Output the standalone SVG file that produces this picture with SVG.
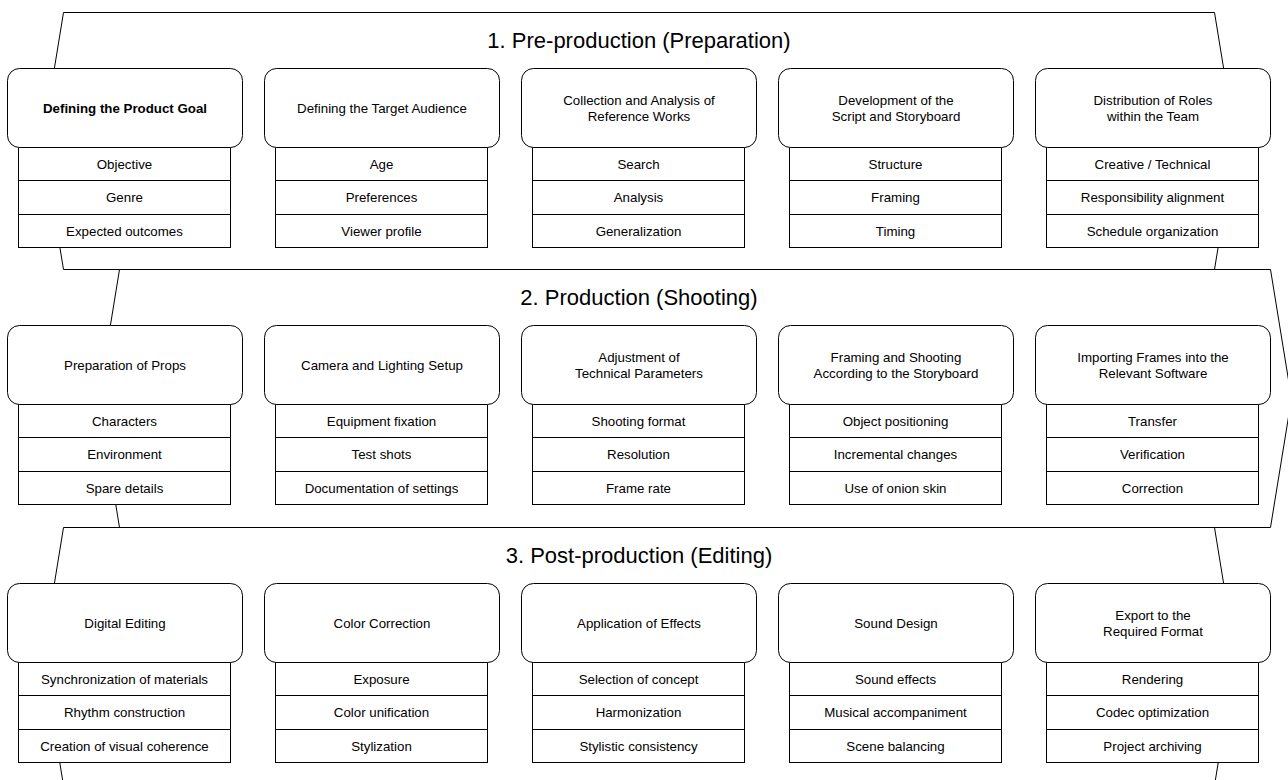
<svg xmlns="http://www.w3.org/2000/svg" width="1288" height="780" viewBox="0 0 1288 780">
<style>
.band{fill:#fff;stroke:#000;stroke-width:1}
.hd{fill:#fff;stroke:#000;stroke-width:1}
.tb{fill:#fff;stroke:#000;stroke-width:1}
text{font-family:"Liberation Sans",Arial,Helvetica,sans-serif;fill:#000;text-anchor:middle}
.t{font-size:22px}
.n{font-size:13.3px}
.b{font-weight:bold}
</style>
<rect width="1288" height="780" fill="#fff"/>
<g id="bands">
<g id="band1"><polygon class="band" points="63.5,12.5 1214.5,12.5 1235.5,141 1214.5,269.5 63.5,269.5 42.5,141"/><text class="t" x="639" y="48">1. Pre-production (Preparation)</text></g>
<g id="band2"><polygon class="band" points="119.5,269.5 1270.5,269.5 1291.5,398.5 1270.5,527.5 119.5,527.5 98.5,398.5"/><text class="t" x="639" y="305">2. Production (Shooting)</text></g>
<g id="band3"><polygon class="band" points="63.5,527.5 1214.5,527.5 1235.5,656.5 1214.5,785.5 63.5,785.5 42.5,656.5"/><text class="t" x="639" y="563">3. Post-production (Editing)</text></g>
</g>
<g id="connectors"></g>
<defs>
<g id="frame">
<rect class="tb" x="11" y="79" width="212" height="33"/>
<rect class="tb" x="11" y="112" width="212" height="34"/>
<rect class="tb" x="11" y="146" width="212" height="33"/>
<rect class="hd" x="0" y="0" width="235" height="79" rx="12" ry="12"/>
</g>
</defs>
<!-- Row 1 -->
<g id="n1_1" transform="translate(7.5,68.5)"><use href="#frame"/><text class="n b" x="117.5" y="44.3">Defining the Product Goal</text><text class="n" x="117" y="100.3">Objective</text><text class="n" x="117" y="133.8">Genre</text><text class="n" x="117" y="167">Expected outcomes</text></g>
<g id="n1_2" transform="translate(264.5,68.5)"><use href="#frame"/><text class="n" x="117.5" y="44.3">Defining the Target Audience</text><text class="n" x="117" y="100.3">Age</text><text class="n" x="117" y="133.8">Preferences</text><text class="n" x="117" y="167">Viewer profile</text></g>
<g id="n1_3" transform="translate(521.5,68.5)"><use href="#frame"/><text class="n" x="117.5" y="36.3">Collection and Analysis of</text><text class="n" x="117.5" y="52.3">Reference Works</text><text class="n" x="117" y="100.3">Search</text><text class="n" x="117" y="133.8">Analysis</text><text class="n" x="117" y="167">Generalization</text></g>
<g id="n1_4" transform="translate(778.5,68.5)"><use href="#frame"/><text class="n" x="117.5" y="36.3">Development of the</text><text class="n" x="117.5" y="52.3">Script and Storyboard</text><text class="n" x="117" y="100.3">Structure</text><text class="n" x="117" y="133.8">Framing</text><text class="n" x="117" y="167">Timing</text></g>
<g id="n1_5" transform="translate(1035.5,68.5)"><use href="#frame"/><text class="n" x="117.5" y="36.3">Distribution of Roles</text><text class="n" x="117.5" y="52.3">within the Team</text><text class="n" x="117" y="100.3">Creative / Technical</text><text class="n" x="117" y="133.8">Responsibility alignment</text><text class="n" x="117" y="167">Schedule organization</text></g>
<!-- Row 2 -->
<g id="n2_1" transform="translate(7.5,325.5)"><use href="#frame"/><text class="n" x="117.5" y="44.3">Preparation of Props</text><text class="n" x="117" y="100.3">Characters</text><text class="n" x="117" y="133.8">Environment</text><text class="n" x="117" y="167">Spare details</text></g>
<g id="n2_2" transform="translate(264.5,325.5)"><use href="#frame"/><text class="n" x="117.5" y="44.3">Camera and Lighting Setup</text><text class="n" x="117" y="100.3">Equipment fixation</text><text class="n" x="117" y="133.8">Test shots</text><text class="n" x="117" y="167">Documentation of settings</text></g>
<g id="n2_3" transform="translate(521.5,325.5)"><use href="#frame"/><text class="n" x="117.5" y="36.3">Adjustment of</text><text class="n" x="117.5" y="52.3">Technical Parameters</text><text class="n" x="117" y="100.3">Shooting format</text><text class="n" x="117" y="133.8">Resolution</text><text class="n" x="117" y="167">Frame rate</text></g>
<g id="n2_4" transform="translate(778.5,325.5)"><use href="#frame"/><text class="n" x="117.5" y="36.3">Framing and Shooting</text><text class="n" x="117.5" y="52.3">According to the Storyboard</text><text class="n" x="117" y="100.3">Object positioning</text><text class="n" x="117" y="133.8">Incremental changes</text><text class="n" x="117" y="167">Use of onion skin</text></g>
<g id="n2_5" transform="translate(1035.5,325.5)"><use href="#frame"/><text class="n" x="117.5" y="36.3">Importing Frames into the</text><text class="n" x="117.5" y="52.3">Relevant Software</text><text class="n" x="117" y="100.3">Transfer</text><text class="n" x="117" y="133.8">Verification</text><text class="n" x="117" y="167">Correction</text></g>
<!-- Row 3 -->
<g id="n3_1" transform="translate(7.5,583.5)"><use href="#frame"/><text class="n" x="117.5" y="44.3">Digital Editing</text><text class="n" x="117" y="100.3">Synchronization of materials</text><text class="n" x="117" y="133.8">Rhythm construction</text><text class="n" x="117" y="167">Creation of visual coherence</text></g>
<g id="n3_2" transform="translate(264.5,583.5)"><use href="#frame"/><text class="n" x="117.5" y="44.3">Color Correction</text><text class="n" x="117" y="100.3">Exposure</text><text class="n" x="117" y="133.8">Color unification</text><text class="n" x="117" y="167">Stylization</text></g>
<g id="n3_3" transform="translate(521.5,583.5)"><use href="#frame"/><text class="n" x="117.5" y="44.3">Application of Effects</text><text class="n" x="117" y="100.3">Selection of concept</text><text class="n" x="117" y="133.8">Harmonization</text><text class="n" x="117" y="167">Stylistic consistency</text></g>
<g id="n3_4" transform="translate(778.5,583.5)"><use href="#frame"/><text class="n" x="117.5" y="44.3">Sound Design</text><text class="n" x="117" y="100.3">Sound effects</text><text class="n" x="117" y="133.8">Musical accompaniment</text><text class="n" x="117" y="167">Scene balancing</text></g>
<g id="n3_5" transform="translate(1035.5,583.5)"><use href="#frame"/><text class="n" x="117.5" y="36.3">Export to the</text><text class="n" x="117.5" y="52.3">Required Format</text><text class="n" x="117" y="100.3">Rendering</text><text class="n" x="117" y="133.8">Codec optimization</text><text class="n" x="117" y="167">Project archiving</text></g>
</svg>
